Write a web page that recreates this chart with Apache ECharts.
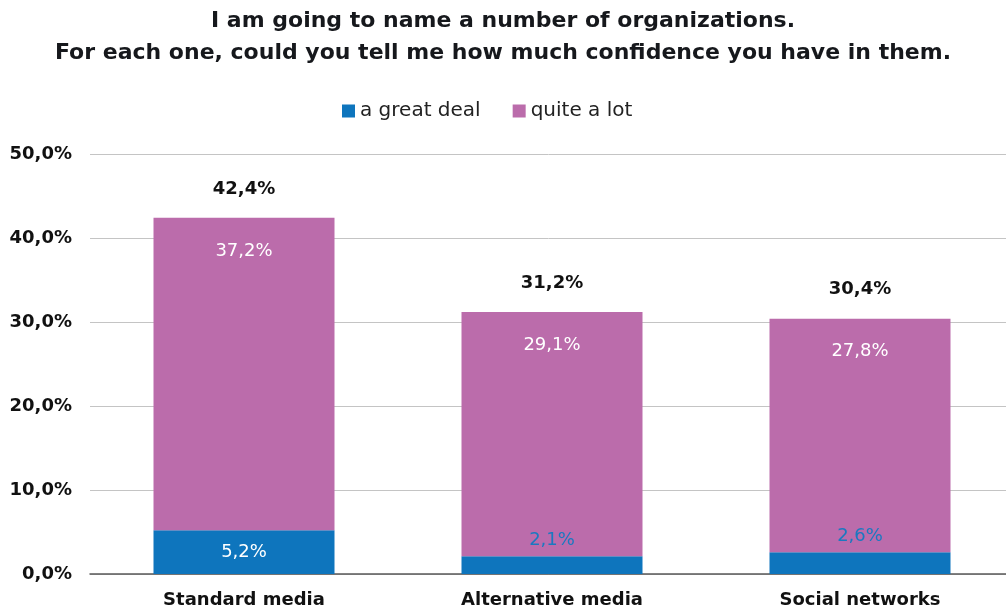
<!DOCTYPE html>
<html>
<head>
<meta charset="utf-8">
<script src="https://cdn.jsdelivr.net/npm/echarts@6/dist/echarts.min.js"></script>
<style>
  html, body { margin: 0; padding: 0; background: #fff; }
  #chart { width: 1006px; height: 614px; }
</style>
</head>
<body>
<div id="chart"></div>
<script>
// Confidence in media organizations (share of respondents)
const categories = ['Standard media', 'Alternative media', 'Social networks'];
const greatDeal = [5.2, 2.1, 2.6];
const quiteALot = [37.2, 29.1, 27.8];
const yTicks = [0, 10, 20, 30, 40, 50];

const totals = categories.map((_, i) => +(greatDeal[i] + quiteALot[i]).toFixed(1));
const fmt = v => v.toFixed(1).replace('.', ',') + '%';

const BLUE = '#0e75bd';
const PINK = '#bb6cab';
const FONT = '"DejaVu Sans", sans-serif';

const chart = echarts.init(document.getElementById('chart'));
chart.setOption({
  animation: false,
  textStyle: { fontFamily: FONT },
  title: {
    text: 'I am going to name a number of organizations.\nFor each one, could you tell me how much confidence you have in them.',
    left: 'center',
    top: 0,
    textStyle: { fontSize: 22, fontWeight: 'bold', color: '#16181c', lineHeight: 32, fontFamily: FONT }
  },
  legend: {
    data: ['a great deal', 'quite a lot'],
    top: 96,
    left: 337,
    itemWidth: 13,
    itemHeight: 13,
    itemGap: 32,
    icon: 'rect',
    textStyle: { fontSize: 20, color: '#222', fontFamily: FONT }
  },
  grid: { left: 90, width: 924, top: 154, bottom: 40, outerBoundsMode: 'none' },
  xAxis: {
    type: 'category',
    data: categories,
    axisTick: { show: false },
    axisLine: { lineStyle: { color: '#595959', width: 1.5 } },
    axisLabel: { fontSize: 18, fontWeight: 'bold', color: '#111', margin: 17, fontFamily: FONT }
  },
  yAxis: {
    type: 'value',
    min: yTicks[0],
    max: yTicks[yTicks.length - 1],
    interval: 10,
    axisLine: { show: false },
    axisTick: { show: false },
    splitLine: { lineStyle: { color: '#c4c4c4', width: 1 } },
    axisLabel: { fontSize: 18, fontWeight: 'bold', color: '#111', margin: 18, formatter: v => fmt(v), fontFamily: FONT }
  },
  series: [
    {
      name: 'a great deal',
      type: 'bar',
      stack: 'total',
      barWidth: 181,
      data: greatDeal,
      itemStyle: { color: BLUE },
      label: {
        show: true,
        fontSize: 18,
        fontFamily: FONT,
        // thin segments get their label from the overlay series below
        formatter: p => p.value < 5 ? '' : fmt(p.value),
        position: 'inside',
        color: '#fff'
      }
    },
    {
      name: 'quite a lot',
      type: 'bar',
      stack: 'total',
      barWidth: 181,
      data: quiteALot,
      itemStyle: { color: PINK },
      label: {
        show: true,
        position: 'insideTop',
        distance: 24,
        fontSize: 18,
        color: '#fff',
        fontFamily: FONT,
        formatter: p => fmt(p.value)
      }
    },
    {
      name: 'total',
      type: 'bar',
      stack: 'total',
      barWidth: 181,
      data: totals.map(() => 0),
      itemStyle: { color: 'transparent' },
      label: {
        show: true,
        position: 'top',
        distance: 20,
        fontSize: 18,
        fontWeight: 'bold',
        color: '#111',
        fontFamily: FONT,
        formatter: p => fmt(totals[p.dataIndex])
      }
    },
    {
      // values too thin for an inside label sit just above the blue segment
      name: 'smallLabels',
      type: 'bar',
      stack: 'small',
      barWidth: 181,
      barGap: '-100%',
      data: greatDeal.map(v => v < 5 ? v : '-'),
      itemStyle: { color: 'transparent' },
      silent: true,
      label: {
        show: true,
        position: 'top',
        distance: 7,
        fontSize: 18,
        color: '#1a79c0',
        fontFamily: FONT,
        formatter: p => fmt(p.value)
      }
    }
  ]
});
</script>
</body>
</html>
